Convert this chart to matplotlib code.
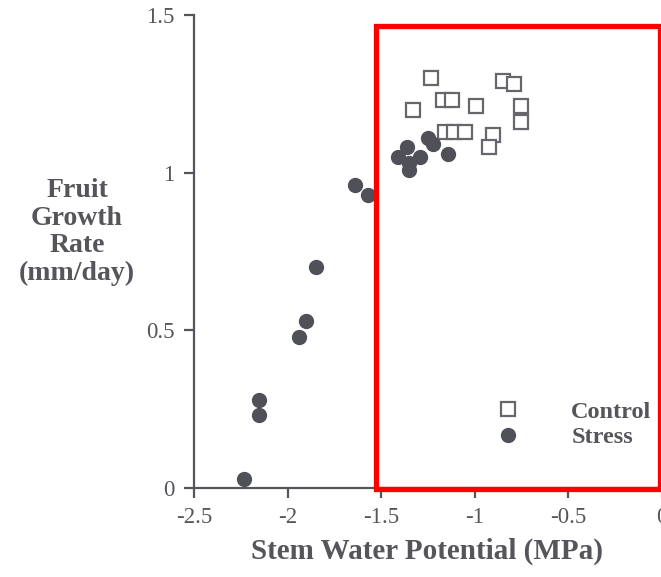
import matplotlib
matplotlib.use("Agg")
import matplotlib.pyplot as plt
from matplotlib.patches import Rectangle

# fruit growth rate vs stem water potential
control_x = [-1.23, -1.33, -1.17, -1.12, -0.99, -0.85, -0.79, -0.75, -0.75,
             -1.16, -1.11, -1.05, -0.90, -0.92]
control_y = [1.30, 1.20, 1.23, 1.23, 1.21, 1.29, 1.28, 1.21, 1.16,
             1.13, 1.13, 1.13, 1.12, 1.08]

stress_x = [-2.23, -2.15, -2.15, -1.94, -1.90, -1.85, -1.64, -1.57, -1.41,
            -1.36, -1.35, -1.35, -1.29, -1.25, -1.22, -1.14]
stress_y = [0.03, 0.28, 0.23, 0.48, 0.53, 0.70, 0.96, 0.93, 1.05,
            1.08, 1.03, 1.01, 1.05, 1.11, 1.09, 1.06]

x_ticks = [-2.5, -2, -1.5, -1, -0.5, 0]
x_ticklabels = ["-2.5", "-2", "-1.5", "-1", "-0.5", "0"]
y_ticks = [0, 0.5, 1, 1.5]
y_ticklabels = ["0", "0.5", "1", "1.5"]

ink = "#55555c"
plt.rcParams["font.family"] = ["Liberation Serif", "DejaVu Serif"]

fig = plt.figure(figsize=(6.61, 5.77), dpi=100)
ax = fig.add_axes([194 / 661, 89 / 577, 467.5 / 661, 473 / 577])

ax.plot(control_x, control_y, "s", ms=9.5, mfc="white", mec="#66666c",
        mew=1.6, linestyle="none", label="Control", clip_on=False)
ax.plot(stress_x, stress_y, "o", ms=10, color="#505058",
        linestyle="none", label="Stress", clip_on=False)

ax.set_xlim(-2.5, 0)
ax.set_ylim(0, 1.5)
ax.set_xticks(x_ticks)
ax.set_xticklabels(x_ticklabels)
ax.set_yticks(y_ticks)
ax.set_yticklabels(y_ticklabels)

for side in ("top", "right"):
    ax.spines[side].set_visible(False)
for side in ("left", "bottom"):
    ax.spines[side].set_color(ink)
    ax.spines[side].set_linewidth(1.6)
ax.tick_params(colors=ink, width=1.6, length=7, labelsize=16.5, pad=7)
for lbl in ax.get_xticklabels() + ax.get_yticklabels():
    lbl.set_color(ink)

leg = ax.legend(loc="upper left", bbox_to_anchor=(0.573, 0.231), frameon=False,
                handletextpad=1.6, labelspacing=0.15,
                prop={"weight": "bold", "size": 17.5})
for t in leg.get_texts():
    t.set_color(ink)

fig.text(77 / 661, 1 - 232 / 577, "Fruit\nGrowth\nRate\n(mm/day)",
         ha="center", va="center", multialignment="center",
         fontsize=20, fontweight="bold", color=ink, linespacing=1.14)
fig.text(427 / 661, 1 - 551 / 577, "Stem Water Potential (MPa)",
         ha="center", va="center", fontsize=21, fontweight="bold", color=ink)

# red highlight box over the upper range
fig.add_artist(Rectangle((375.5 / 661, 1 - 489 / 577),
                         (659.5 - 375.5) / 661, (489 - 25.5) / 577,
                         transform=fig.transFigure, fill=False,
                         edgecolor="#ff0000", linewidth=3.8, zorder=10))

fig.savefig("out.png", dpi=100)
